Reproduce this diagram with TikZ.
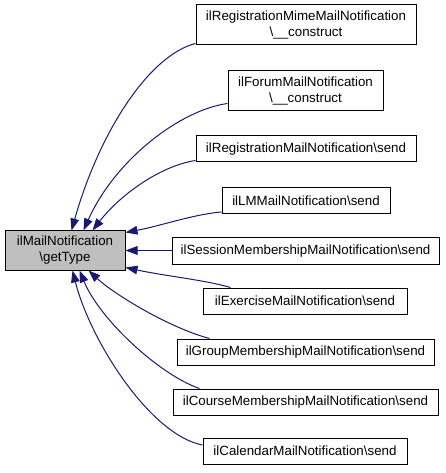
\documentclass[tikz,border=0pt]{standalone}
\usepackage{fontspec}
\setmainfont{Liberation Sans}
\usetikzlibrary{arrows.meta,calc}
\definecolor{edgeblue}{HTML}{191970}
\definecolor{mainfill}{HTML}{BFBFBF}
\tikzset{
  fn/.style={draw=black, line width=0.75pt, fill=white, inner sep=0pt, align=center,
    font=\fontsize{10}{12}\selectfont, minimum height=19.5pt},
  fntwo/.style={fn, minimum height=30pt},
  mainfn/.style={fn, fill=mainfill, minimum height=29.25pt},
  edge/.style={draw=edgeblue, line width=0.75pt, {Triangle[length=9pt,width=6.5pt]}-}
}
\begin{document}
\begin{tikzpicture}[x=0.75pt,y=-0.75pt]
\useasboundingbox (0,0) rectangle (445,473);
\node[mainfn, minimum width=90pt] (main) at (65,250.5) {ilMailNotification\\\textbackslash getType};
\node[fntwo, minimum width=165pt] (regmime) at (306,25) {ilRegistrationMimeMailNotification\\\textbackslash\_\_construct};
\node[fntwo, minimum width=116.25pt] (forum) at (305.5,91) {ilForumMailNotification\\\textbackslash\_\_construct};
\node[fn, minimum width=165pt] (regsend) at (306,149) {ilRegistrationMailNotification\textbackslash send};
\node[fn, minimum width=126pt] (lm) at (306,200.5) {ilLMMailNotification\textbackslash send};
\node[fn, minimum width=200.25pt] (session) at (305.5,251) {ilSessionMembershipMailNotification\textbackslash send};
\node[fn, minimum width=153pt] (exercise) at (305,301) {ilExerciseMailNotification\textbackslash send};
\node[fn, minimum width=192.75pt] (group) at (305.5,352) {ilGroupMembershipMailNotification\textbackslash send};
\node[fn, minimum width=198.75pt] (course) at (305.5,402) {ilCourseMembershipMailNotification\textbackslash send};
\node[fn, minimum width=153pt] (calendar) at (305,451) {ilCalendarMailNotification\textbackslash send};

\draw[edge] ($(main.north west)+(67,0)$) .. controls (100,130) and (150,55) .. ($(regmime.south west)+(0,-2)$);
\draw[edge] ($(main.north west)+(79,0)$) .. controls (115,160) and (180,110) .. ($(forum.south west)+(0,-8)$);
\draw[edge] ($(main.north west)+(88,0)$) .. controls (120,195) and (160,166) .. ($(regsend.south west)+(0,-2)$);
\draw[edge] ($(main.north east)+(0,2)$) .. controls (160,226) and (195,214) .. ($(lm.south west)+(0,-2)$);
\draw[edge] (main.east) -- (main.east -| session.west);
\draw[edge] ($(main.south east)+(0,-3)$) .. controls (165,276) and (205,280) .. ($(exercise.north west)+(28,0)$);
\draw[edge] ($(main.south west)+(84,0)$) .. controls (115,295) and (170,328) .. ($(group.north west)+(33,0)$);
\draw[edge] ($(main.south west)+(75,0)$) .. controls (100,320) and (160,375) .. ($(course.north west)+(27,0)$);
\draw[edge] ($(main.south west)+(68,0)$) .. controls (90,340) and (150,435) .. ($(calendar.west)+(0,-6)$);
\end{tikzpicture}
\end{document}
